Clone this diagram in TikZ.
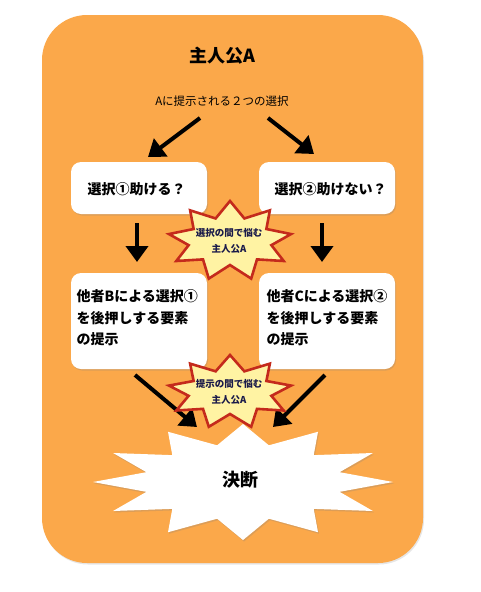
\documentclass[tikz,border=0pt]{standalone}
\usepackage{fontspec}
\setmainfont{Noto Sans CJK JP}
\usetikzlibrary{arrows.meta,shadows}
\definecolor{bgorange}{HTML}{FBA84A}
\definecolor{staryellow}{HTML}{FFF3A3}
\definecolor{starred}{HTML}{C42A1C}
\definecolor{startext}{HTML}{1A1A4A}
\tikzset{
  box/.style={draw=none,fill=white,rounded corners=10pt,drop shadow={opacity=0.25,shadow xshift=1pt,shadow yshift=-1.5pt}},
  bigarrow/.style={line width=4pt,-{Triangle[length=16pt,width=22pt]}},
  boxtext/.style={font=\bfseries\fontsize{14}{16}\selectfont,align=left},
  startxt/.style={text=startext,align=center,font=\bfseries\fontsize{9.5}{16}\selectfont},
}
\begin{document}
\begin{tikzpicture}[x=1pt,y=-1pt]
\useasboundingbox (0,0) rectangle (480,592);
% background panel
\fill[bgorange,rounded corners=45pt,drop shadow={opacity=0.2,shadow xshift=1pt,shadow yshift=-1.5pt}] (42,15) rectangle (423,563);
\node (title) at (222,56) {\bfseries\fontsize{18}{20}\selectfont 主人公A};
\node (sub) at (222,101) {\fontsize{11.5}{13}\selectfont Aに提示される２つの選択};
% coordinates for top arrows
\coordinate (tla) at (200,118);
\coordinate (tlb) at (148,157);
\coordinate (tra) at (268,118);
\coordinate (trb) at (314,154);
\draw[bigarrow] (tla) -- (tlb);
\draw[bigarrow] (tra) -- (trb);
% top boxes
\path[box] (71,162) rectangle (207,214);
\node[boxtext,anchor=west] (b1) at (84,189) {選択①助ける？};
\path[box] (259,162) rectangle (395,214);
\node[boxtext,anchor=west] (b2) at (271,189) {選択②助けない？};
% down arrows
\coordinate (dl1) at (137,223);
\coordinate (dl2) at (137,262);
\coordinate (dr1) at (322,223);
\coordinate (dr2) at (322,262);
\draw[bigarrow] (dl1) -- (dl2);
\draw[bigarrow] (dr1) -- (dr2);
% lower boxes
\path[box] (71,273) rectangle (207,369);
\node[boxtext,anchor=north west,font=\bfseries\fontsize{14}{21.5}\selectfont] (b3) at (73,286) {他者Bによる選択①\\を後押しする要素\\の提示};
\path[box] (259,273) rectangle (395,369);
\node[boxtext,anchor=north west,font=\bfseries\fontsize{14}{21.5}\selectfont] (b4) at (263,286) {他者Cによる選択②\\を後押しする要素\\の提示};
% star 1
\draw[starred,fill=staryellow,line width=2.6pt,line join=miter]
  plot[samples at={0,...,17}] ({230+cos(90+\x*20)*(mod(\x,2)==0?62:42)},{241-sin(90+\x*20)*(mod(\x,2)==0?40:24)}) -- cycle;
\node[startxt] (s1) at (229,241) {選択の間で悩む\\主人公A};
% lower arrows
\coordinate (la1) at (135,375);
\coordinate (la2) at (197,427);
\coordinate (ra1) at (325,375);
\coordinate (ra2) at (273,427);
\draw[bigarrow] (la1) -- (la2);
\draw[bigarrow] (ra1) -- (ra2);
% star 2
\draw[starred,fill=staryellow,line width=2.6pt,line join=miter]
  plot[samples at={0,...,17}] ({230+cos(90+\x*20)*(mod(\x,2)==0?62:42)},{392-sin(90+\x*20)*(mod(\x,2)==0?37:22)}) -- cycle;
\node[startxt] (s2) at (229,392) {提示の間で悩む\\主人公A};
% big star
\fill[white,drop shadow={opacity=0.25,shadow xshift=1pt,shadow yshift=-1.5pt}]
  plot[samples at={0,...,23}] ({243+cos(90+\x*15)*(mod(\x,2)==0?150:100)},{482-sin(90+\x*15)*(mod(\x,2)==0?58:38)}) -- cycle;
\node[font=\bfseries\fontsize{18}{20}\selectfont] (kd) at (240,480) {決断};
\end{tikzpicture}
\end{document}
